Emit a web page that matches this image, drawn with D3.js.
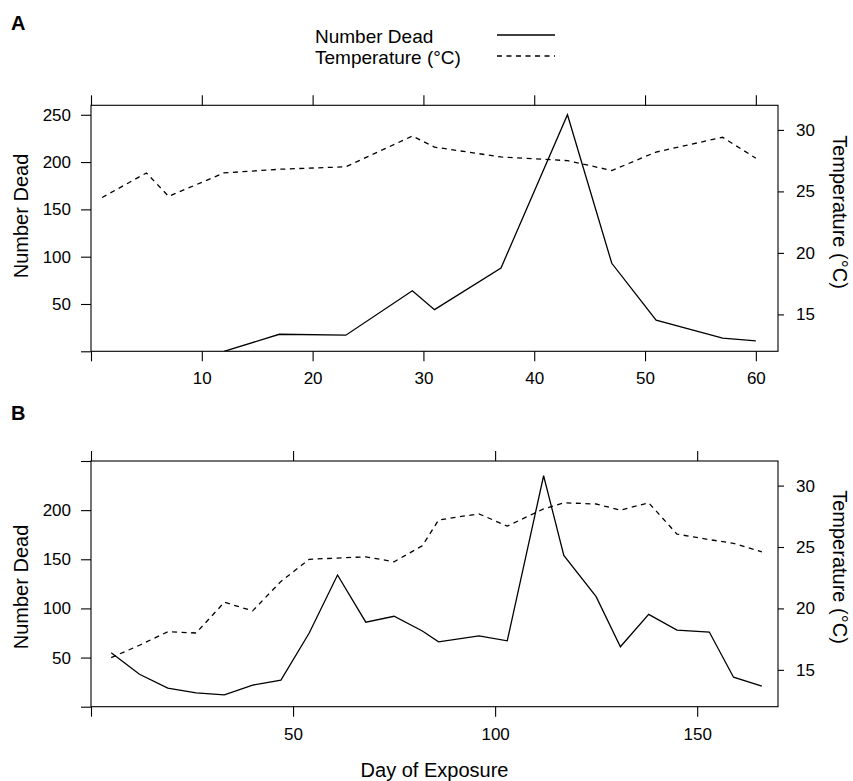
<!DOCTYPE html>
<html>
<head>
<meta charset="utf-8">
<script src="https://cdn.jsdelivr.net/npm/d3@7"></script>
<style>
  html, body { margin: 0; padding: 0; background: #fff; }
  svg { display: block; font-family: "Liberation Sans", Arial, Helvetica, sans-serif; }
</style>
</head>
<body>
<svg id="chart" width="853" height="781"></svg>
<script>
// ---- Data ----
const daysA = [1, 5, 7, 12, 17, 23, 29, 31, 37, 43, 47, 51, 57, 60];
const deadA = [null, null, null, 0, 18, 17, 64, 44, 88, 250, 93, 33, 14, 11];
const tempA = [24.5, 26.5, 24.6, 26.5, 26.8, 27.0, 29.5, 28.6, 27.8, 27.5, 26.7, 28.2, 29.4, 27.7];

const daysB = [5, 12, 19, 26, 33, 40, 47, 54, 61, 68, 75, 82, 86, 96, 103, 112, 117, 125, 131, 138, 145, 153, 159, 166];
const deadB = [55, 33, 19, 14, 12, 22, 27, 75, 134, 86, 92, 77, 66, 72, 67, 235, 154, 112, 61, 94, 78, 76, 30, 21];
const tempB = [16.0, 17.0, 18.1, 18.0, 20.5, 19.8, 22.2, 24.0, 24.1, 24.2, 23.8, 25.1, 27.2, 27.7, 26.7, 28.1, 28.6, 28.5, 28.0, 28.6, 26.05, 25.6, 25.3, 24.6];

const xTicksA = [0, 10, 20, 30, 40, 50, 60];
const xTicksB = [0, 50, 100, 150];
const deadTicksA = [0, 50, 100, 150, 200, 250];
const deadTicksB = [0, 50, 100, 150, 200, 250];
const tempTicks = [15, 20, 25, 30];

const legendLabels = ["Number Dead", "Temperature (\u00B0C)"];
const xTitle = "Day of Exposure";
const yTitleLeft = "Number Dead";
const yTitleRight = "Temperature (\u00B0C)";

// ---- Layout ----
const svg = d3.select("#chart");
const tickFont = 17;
const titleFont = 20;

const panels = [
  { label: "A", days: daysA, dead: deadA, temp: tempA, xDomain: [0, 62], deadDomain: [0, 260],
    xTicks: xTicksA, xLabelHide: [0], deadTicks: deadTicksA, deadLabelHide: [0],
    left: 91, right: 778, top: 105.3, bottom: 351.3, labelY: 30, leftTitleY: 216, rightTitleY: 212 },
  { label: "B", days: daysB, dead: deadB, temp: tempB, xDomain: [0, 170], deadDomain: [0, 250],
    xTicks: xTicksB, xLabelHide: [0], deadTicks: deadTicksB, deadLabelHide: [0, 250],
    left: 91, right: 778, top: 461, bottom: 706.7, labelY: 420, leftTitleY: 587, rightTitleY: 567 }
];

panels.forEach(p => {
  const x = d3.scaleLinear().domain(p.xDomain).range([p.left, p.right]);
  const yD = d3.scaleLinear().domain(p.deadDomain).range([p.bottom, p.top]);
  const yT = d3.scaleLinear().domain([12, 32]).range([p.bottom, p.top]);

  const g = svg.append("g");

  // Box
  g.append("rect")
    .attr("x", p.left).attr("y", p.top)
    .attr("width", p.right - p.left).attr("height", p.bottom - p.top)
    .attr("fill", "none").attr("stroke", "#000").attr("stroke-width", 1.1);

  const styleAxis = sel => {
    sel.select(".domain").remove();
    sel.selectAll(".tick line").attr("stroke", "#000").attr("stroke-width", 1.1);
    sel.selectAll(".tick text").attr("font-size", tickFont).attr("fill", "#000")
      .attr("font-family", "Liberation Sans, Arial, sans-serif");
  };

  // Bottom axis
  g.append("g").attr("transform", `translate(0,${p.bottom})`)
    .call(d3.axisBottom(x).tickValues(p.xTicks).tickSize(10).tickPadding(11)
      .tickFormat(d => p.xLabelHide.includes(d) ? "" : d))
    .call(styleAxis);
  // Top axis (ticks only)
  g.append("g").attr("transform", `translate(0,${p.top})`)
    .call(d3.axisTop(x).tickValues(p.xTicks).tickSize(10).tickFormat(""))
    .call(styleAxis);
  // Left axis
  g.append("g").attr("transform", `translate(${p.left},0)`)
    .call(d3.axisLeft(yD).tickValues(p.deadTicks).tickSize(10).tickPadding(10)
      .tickFormat(d => p.deadLabelHide.includes(d) ? "" : d))
    .call(styleAxis);
  // Right axis
  g.append("g").attr("transform", `translate(${p.right},0)`)
    .call(d3.axisRight(yT).tickValues(tempTicks).tickSize(6).tickPadding(12))
    .call(styleAxis);

  // Lines
  const rows = p.days.map((d, i) => ({ day: d, dead: p.dead[i], temp: p.temp[i] }));
  const clipId = "clip" + p.label;
  svg.append("clipPath").attr("id", clipId).append("rect")
    .attr("x", p.left).attr("y", p.top).attr("width", p.right - p.left).attr("height", p.bottom - p.top);

  g.append("path").datum(rows)
    .attr("clip-path", `url(#${clipId})`)
    .attr("fill", "none").attr("stroke", "#000").attr("stroke-width", 1.3)
    .attr("d", d3.line().defined(r => r.temp != null).x(r => x(r.day)).y(r => yT(r.temp)))
    .attr("stroke-dasharray", "5,4.5");

  g.append("path").datum(rows)
    .attr("clip-path", `url(#${clipId})`)
    .attr("fill", "none").attr("stroke", "#000").attr("stroke-width", 1.3)
    .attr("stroke-linejoin", "miter")
    .attr("d", d3.line().defined(r => r.dead != null).x(r => x(r.day)).y(r => yD(r.dead)));

  // Panel label
  svg.append("text").attr("x", 11).attr("y", p.labelY)
    .attr("font-size", 20).attr("font-weight", "bold").text(p.label);

  // Axis titles
  svg.append("text")
    .attr("transform", `translate(28,${p.leftTitleY}) rotate(-90)`)
    .attr("text-anchor", "middle").attr("font-size", titleFont).text(yTitleLeft);
  svg.append("text")
    .attr("transform", `translate(833,${p.rightTitleY}) rotate(90)`)
    .attr("text-anchor", "middle").attr("font-size", titleFont).text(yTitleRight);
});

// X title
svg.append("text").attr("x", 434.5).attr("y", 777)
  .attr("text-anchor", "middle").attr("font-size", titleFont).text(xTitle);

// Legend
const legend = svg.append("g");
legendLabels.forEach((lab, i) => {
  const yy = 36 + i * 21;
  legend.append("text").attr("x", 315).attr("y", yy + 7)
    .attr("font-size", 19).text(lab);
  legend.append("line")
    .attr("x1", 497).attr("x2", 555).attr("y1", yy - 1).attr("y2", yy - 1)
    .attr("stroke", "#000").attr("stroke-width", 1.3)
    .attr("stroke-dasharray", i === 1 ? "5,4.5" : null);
});
</script>
</body>
</html>
